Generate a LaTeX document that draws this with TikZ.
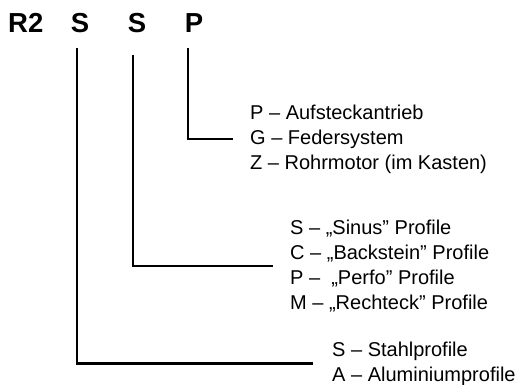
\documentclass[tikz,border=0pt]{standalone}
\usepackage{fontspec}
\setmainfont{Liberation Sans}
\begin{document}
\begin{tikzpicture}[x=1pt,y=-1pt,
  code/.style={font=\fontsize{27.5}{27.5}\selectfont\bfseries,inner sep=0pt,anchor=base},
  opts/.style={font=\fontsize{20}{25}\selectfont,align=left,inner sep=0pt,anchor=west},
  leg/.style={line width=2.2pt}]
  \useasboundingbox (0,0) rectangle (522,385);
  \node[code,anchor=base west] (r2) at (8,33) {R2};
  \node[code] (mat) at (80,33) {S};
  \node[code] (prof) at (137,33) {S};
  \node[code] (drive) at (194,33) {P};

  \coordinate (mattop) at (77,48);
  \coordinate (proftop) at (133,55);
  \coordinate (drivetop) at (188,48);

  \node[opts] (drivelist) at (250,139)
        {P – Aufsteckantrieb\\G – Federsystem\\Z – Rohrmotor (im Kasten)};
  \node[opts] (proflist) at (290,266)
        {S – „Sinus” Profile\\C – „Backstein” Profile\\P – \ „Perfo” Profile\\M – „Rechteck” Profile};
  \node[opts] (matlist) at (332,363.5)
        {S – Stahlprofile\\A – Aluminiumprofile};

  \draw[leg] (drivetop) |- ([xshift=-17pt]drivelist.west);
  \draw[leg] (proftop) |- ([xshift=-17pt]proflist.west);
  \draw[leg] (mattop) |- ([xshift=-19pt]matlist.west);
\end{tikzpicture}
\end{document}
